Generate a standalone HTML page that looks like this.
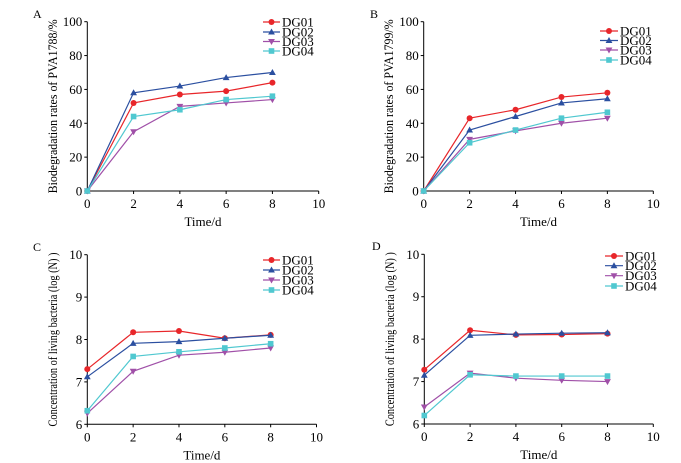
<!DOCTYPE html>
<html><head><meta charset="utf-8"><style>
html,body{margin:0;padding:0;background:#fff;}
svg{display:block;font-family:"Liberation Serif",serif;}
</style></head><body>
<svg id="chart" width="681" height="463" viewBox="0 0 681 463"></svg>
<script>
const xTicks=[0,2,4,6,8,10];
const days=[0,2,4,6,8];
const seriesNames=["DG01","DG02","DG03","DG04"];
const aDG01=[0,52,57,59,64];
const aDG02=[0,58,62,67,70];
const aDG03=[0,35,50,52,54];
const aDG04=[0,44,48,54,56];
const bDG01=[0,43,48,55.5,58];
const bDG02=[0,36,44,52,54.5];
const bDG03=[0,30.5,35.5,40,43];
const bDG04=[0,28.5,36,43,46.5];
const cDG01=[7.3,8.17,8.2,8.03,8.11];
const cDG02=[7.12,7.91,7.95,8.03,8.1];
const cDG03=[6.26,7.25,7.63,7.7,7.8];
const cDG04=[6.32,7.6,7.71,7.8,7.9];
const dDG01=[7.28,8.21,8.1,8.11,8.13];
const dDG02=[7.15,8.09,8.12,8.14,8.15];
const dDG03=[6.4,7.2,7.08,7.03,7.0];
const dDG04=[6.2,7.16,7.13,7.13,7.13];
const pctTicks=[0,20,40,60,80,100];
const logTicks=[6,7,8,9,10];

const colors=["#e8262a","#2b4fa0","#a050a8","#50c8d0"];
const markers=["circle","up","down","square"];
const NS="http://www.w3.org/2000/svg";
const svg=document.getElementById("chart");
function mk(tag,attrs,parent){const e=document.createElementNS(NS,tag);for(const k in attrs)e.setAttribute(k,attrs[k]);(parent||svg).appendChild(e);return e;}

const panels=[
 {id:"a",letter:"A",lx:33,ly:18,x0:87.3,x1:318.7,yb:191,yt:21.7,ymin:0,ymax:100,yticks:pctTicks,ylabel:"Biodegradation rates of PVA1788/%",ylx:53,data:[aDG01,aDG02,aDG03,aDG04],lgx0:263,lgx1:280,lgy:[22,32,41.5,51]},
 {id:"b",letter:"B",lx:370,ly:18,x0:423.7,x1:653.3,yb:191,yt:21.7,ymin:0,ymax:100,yticks:pctTicks,ylabel:"Biodegradation rates of PVA1799/%",ylx:389,data:[bDG01,bDG02,bDG03,bDG04],lgx0:600,lgx1:618,lgy:[31,40.5,50,60]},
 {id:"c",letter:"C",lx:33,ly:251,x0:87.3,x1:316.5,yb:424.3,yt:254.7,ymin:6,ymax:10,yticks:logTicks,ylabel:"Concentration of living bacteria (log (N) )",ylx:53,data:[cDG01,cDG02,cDG03,cDG04],lgx0:263,lgx1:280,lgy:[260,270,280,290]},
 {id:"d",letter:"D",lx:372,ly:250,x0:424.3,x1:653.3,yb:424,yt:254.3,ymin:6,ymax:10,yticks:logTicks,ylabel:"Concentration of living bacteria (log (N) )",ylx:390,data:[dDG01,dDG02,dDG03,dDG04],lgx0:605,lgx1:623,lgy:[256,265.7,275.7,286]}
];

function marker(g,type,x,y,c){
 if(type==="circle")return mk("circle",{cx:x,cy:y,r:3,fill:c},g);
 if(type==="square")return mk("rect",{x:x-2.8,y:y-2.8,width:5.6,height:5.6,fill:c},g);
 if(type==="up")return mk("polygon",{points:`${x},${y-3.5} ${x-3.4},${y+2.5} ${x+3.4},${y+2.5}`,fill:c},g);
 return mk("polygon",{points:`${x},${y+3.5} ${x-3.4},${y-2.5} ${x+3.4},${y-2.5}`,fill:c},g);
}

panels.forEach(p=>{
 const g=mk("g",{});
 
 
 const sx=v=>p.x0+(v-xTicks[0])/(xTicks[xTicks.length-1]-xTicks[0])*(p.x1-p.x0);
 const sy=v=>p.yb-(v-p.ymin)/(p.ymax-p.ymin)*(p.yb-p.yt);
 const lt=mk("text",{x:p.lx,y:p.ly,"font-size":"12"},g);lt.textContent=p.letter;
 
 
 const ax=mk("g",{stroke:"#000","stroke-width":"1"},g);
 
 
 mk("line",{x1:p.x0,y1:p.yt,x2:p.x0,y2:p.yb},ax);
 mk("line",{x1:p.x0,y1:p.yb,x2:p.x1,y2:p.yb},ax);
 p.yticks.forEach(t=>{mk("line",{x1:p.x0-3,y1:sy(t),x2:p.x0,y2:sy(t)},ax);
  const tx=mk("text",{x:p.x0-5,y:sy(t)+4.5,"font-size":"13","text-anchor":"end",fill:"#000"},g);tx.textContent=t;
  
  });
 xTicks.forEach(t=>{mk("line",{x1:sx(t),y1:p.yb,x2:sx(t),y2:p.yb+3},ax);
  const tx=mk("text",{x:sx(t),y:p.yb+17,"font-size":"13","text-anchor":"middle"},g);tx.textContent=t;
  
  });
 const xl=mk("text",{x:(p.x0+p.x1)/2,y:p.yb+35,"font-size":"13","text-anchor":"middle"},g);xl.textContent="Time/d";
 
 
 const cy=(p.yt+p.yb)/2;
 const yl=mk("text",{x:p.ylx,y:cy,"font-size":"13","text-anchor":"middle",textLength:"174",lengthAdjust:"spacingAndGlyphs",transform:`rotate(-90 ${p.ylx} ${cy})`,dy:"4"},g);yl.textContent=p.ylabel;
 
 
 p.data.forEach((vals,i)=>{
  const sg=mk("g",{},g);
  
  
  mk("polyline",{points:vals.map((v,j)=>sx(days[j])+","+sy(v)).join(" "),fill:"none",stroke:colors[i],"stroke-width":"1.2"},sg);
  vals.forEach((v,j)=>{const m=marker(sg,markers[i],sx(days[j]),sy(v),colors[i]);
   
   });
  const le=mk("g",{},g);
  
  
  const ly=p.lgy[i];
  mk("line",{x1:p.lgx0,y1:ly,x2:p.lgx1,y2:ly,stroke:colors[i],"stroke-width":"1.2"},le);
  marker(le,markers[i],(p.lgx0+p.lgx1)/2,ly,colors[i]);
  const t=mk("text",{x:p.lgx1+2,y:ly+4.5,"font-size":"13"},le);t.textContent=seriesNames[i];
 });
});
</script>
</body></html>
